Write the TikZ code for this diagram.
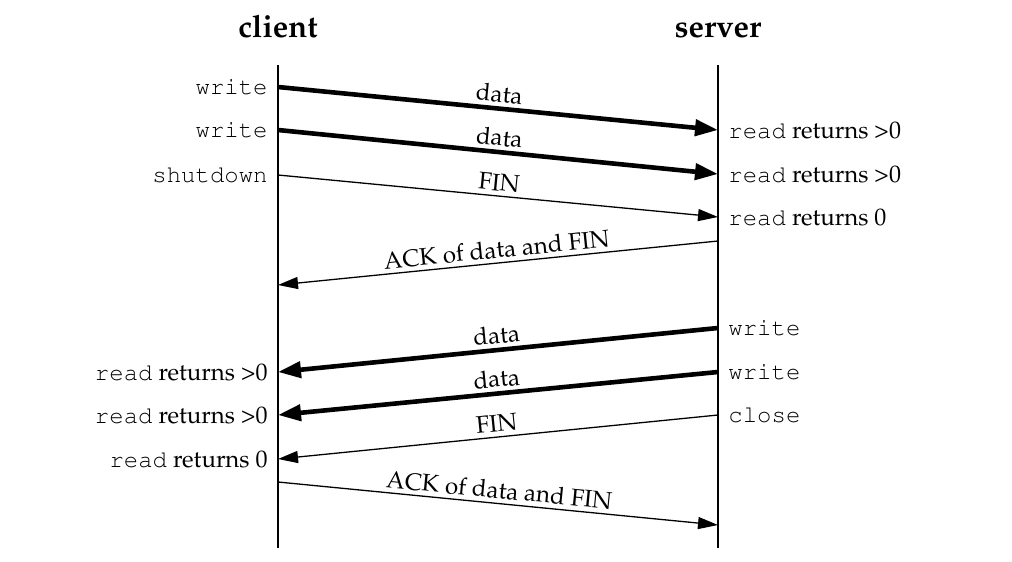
\documentclass[tikz,border=0pt]{standalone}
\usepackage[T1]{fontenc}
\usepackage{mathpazo}
\renewcommand\ttdefault{pcr}
\usetikzlibrary{arrows.meta}
\begin{document}
\begin{tikzpicture}[x=0.5pt,y=-0.5pt,
  every node/.style={font=\fontsize{12}{14}\selectfont, inner sep=1pt},
  head/.style={font=\fontsize{15.5}{18}\selectfont\bfseries, anchor=base},
  life/.style={line width=0.6pt},
  thickmsg/.style={line width=2.3pt, -{Triangle[length=11.5pt,width=8pt]}},
  thinmsg/.style={line width=0.65pt, -{Triangle[length=10pt,width=6pt]}},
  msglabel/.style={sloped, above, inner sep=2pt},
  lft/.style={anchor=east},
  rgt/.style={anchor=west}]
\useasboundingbox (0,0) rectangle (1012,562);
% headers
\node[head] (client) at (278,37) {client};
\node[head] (server) at (718,37) {server};
% lifelines
\coordinate (ctop) at (278,65); \coordinate (cbot) at (278,548);
\coordinate (stop) at (718,65); \coordinate (sbot) at (718,548);
\draw[life] (ctop) -- (cbot);
\draw[life] (stop) -- (sbot);
% endpoints
\coordinate (c1) at (278,87);  \coordinate (s1) at (718,130);
\coordinate (c2) at (278,130); \coordinate (s2) at (718,174);
\coordinate (c3) at (278,175); \coordinate (s3) at (718,217);
\coordinate (s4) at (718,241); \coordinate (c4) at (278,285);
\coordinate (s5) at (718,328); \coordinate (c5) at (278,372);
\coordinate (s6) at (718,372); \coordinate (c6) at (278,415);
\coordinate (s7) at (718,415); \coordinate (c7) at (278,459);
\coordinate (c8) at (278,482); \coordinate (s8) at (718,525);
% client side labels
\node[lft] (lw1) at (270,87) {\texttt{write}};
\node[lft] (lw2) at (270,130) {\texttt{write}};
\node[lft] (lsd) at (270,175) {\texttt{shutdown}};
\node[lft] (lr1) at (270,372) {\texttt{read} returns >0};
\node[lft] (lr2) at (270,415) {\texttt{read} returns >0};
\node[lft] (lr3) at (270,459) {\texttt{read} returns 0};
% server side labels
\node[rgt] (sr1) at (726,130) {\texttt{read} returns >0};
\node[rgt] (sr2) at (726,174) {\texttt{read} returns >0};
\node[rgt] (sr3) at (726,217) {\texttt{read} returns 0};
\node[rgt] (sw1) at (726,328) {\texttt{write}};
\node[rgt] (sw2) at (726,372) {\texttt{write}};
\node[rgt] (scl) at (726,415) {\texttt{close}};
% messages
\draw[thickmsg] (c1) -- node[msglabel] {data} (s1);
\draw[thickmsg] (c2) -- node[msglabel] {data} (s2);
\draw[thinmsg] (c3) -- node[msglabel] {FIN} (s3);
\draw[thinmsg] (s4) -- node[msglabel] {ACK of data and FIN} (c4);
\draw[thickmsg] (s5) -- node[msglabel] {data} (c5);
\draw[thickmsg] (s6) -- node[msglabel] {data} (c6);
\draw[thinmsg] (s7) -- node[msglabel] {FIN} (c7);
\draw[thinmsg] (c8) -- node[msglabel] {ACK of data and FIN} (s8);
\end{tikzpicture}
\end{document}
